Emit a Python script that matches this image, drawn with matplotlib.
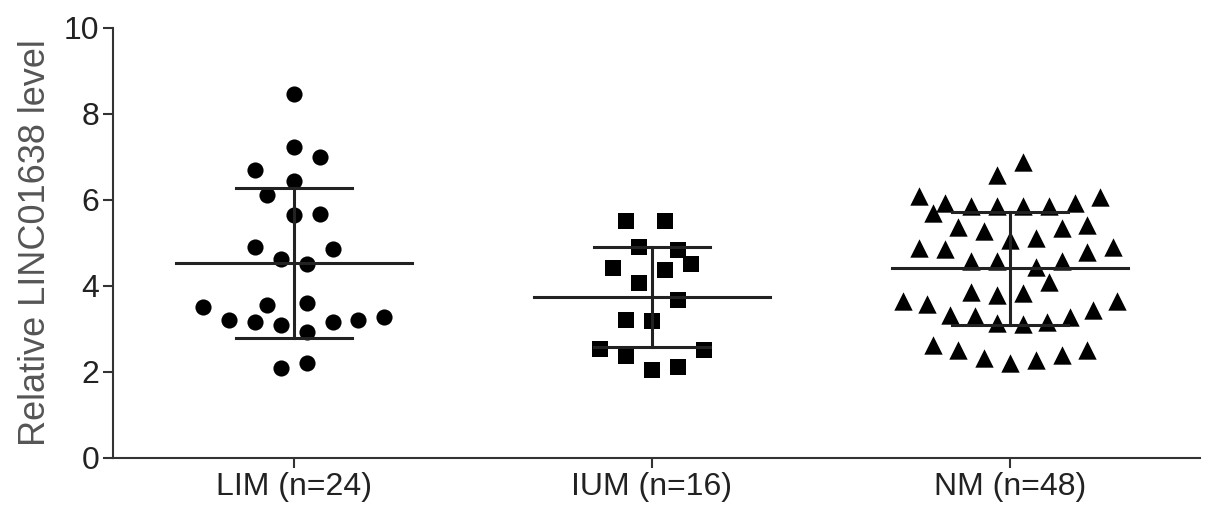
import numpy as np
import matplotlib
matplotlib.use('Agg')
import matplotlib.pyplot as plt

plt.rcParams['font.family'] = ['Liberation Sans', 'DejaVu Sans']

groups = ['LIM (n=24)', 'IUM (n=16)', 'NM (n=48)']
markers = ['o', 's', '^']

# values, with the horizontal scatter offset of each point
lim_vals = [8.47, 7.24, 6.99, 6.70, 6.43, 6.12, 5.65, 5.67, 4.91, 4.86, 4.62, 4.51,
            3.50, 3.56, 3.60, 3.21, 3.16, 3.09, 2.94, 3.16, 3.21, 3.29, 2.10, 2.20]
lim_off = [0, 0, 0.073, -0.109, 0, -0.075, 0, 0.073, -0.109, 0.108, -0.037, 0.035,
           -0.255, -0.075, 0.035, -0.181, -0.109, -0.037, 0.035, 0.108, 0.180, 0.252, -0.037, 0.035]

ium_vals = [5.52, 5.52, 4.91, 4.84, 4.51, 4.41, 4.36, 4.08, 3.67, 3.21, 3.19, 2.53,
            2.50, 2.36, 2.05, 2.12]
ium_off = [-0.072, 0.037, -0.035, 0.072, 0.109, -0.109, 0.037, -0.035, 0.072, -0.072, 0, -0.144,
           0.144, -0.072, 0, 0.072]

nm_vals = [6.89, 6.58, 6.09, 6.06, 5.92, 5.85, 5.85, 5.85, 5.85, 5.92, 5.69, 5.36,
           5.29, 5.34, 5.42, 4.88, 4.85, 5.07, 5.11, 4.80, 4.90, 4.57, 4.57, 4.45,
           4.57, 4.10, 3.87, 3.79, 3.83, 3.64, 3.58, 3.64, 3.43, 3.33, 3.30, 3.29,
           3.13, 3.12, 3.17, 2.63, 2.50, 2.32, 2.22, 2.28, 2.40, 2.51]
nm_off = [0.035, -0.035, -0.253, 0.251, -0.182, -0.110, -0.035, 0.035, 0.110, 0.182, -0.216, -0.144,
          -0.073, 0.144, 0.216, -0.253, -0.182, 0, 0.073, 0.216, 0.289, -0.110, -0.035, 0.073,
          0.144, 0.110, -0.110, -0.035, 0.035, -0.300, -0.233, 0.298, 0.233, -0.168, -0.098, 0.168,
          -0.035, 0.035, 0.103, -0.216, -0.144, -0.073, 0, 0.073, 0.144, 0.216]

means = [4.54, 3.74, 4.41]
sds = [1.74, 1.16, 1.315]

values = [lim_vals, ium_vals, nm_vals]
offsets = [lim_off, ium_off, nm_off]
sizes = [135, 135, 175]

fig = plt.figure(figsize=(12.05, 5.24), dpi=100)
ax = fig.add_axes([0.0938, 0.126, 0.9021, 0.8206])

for i in range(len(groups)):
    x = i + np.array(offsets[i])
    ax.scatter(x, values[i], marker=markers[i], s=sizes[i], color='black',
               linewidths=0, zorder=2)
    m = means[i]
    s = sds[i]
    ax.plot([i - 0.33, i + 0.33], [m, m], color='#222222', lw=2.2, zorder=3)
    ax.plot([i, i], [m - s, m + s], color='#222222', lw=2.2, zorder=3)
    ax.plot([i - 0.162, i + 0.162], [m + s, m + s], color='#222222', lw=2.2, zorder=3)
    ax.plot([i - 0.162, i + 0.162], [m - s, m - s], color='#222222', lw=2.2, zorder=3)

ax.set_xlim(-0.5056, 2.531)
ax.set_ylim(0, 10)
ax.set_yticks([0, 2, 4, 6, 8, 10])
ax.set_xticks(range(len(groups)))
ax.set_xticklabels(groups)

for side in ['top', 'right']:
    ax.spines[side].set_visible(False)
for side in ['left', 'bottom']:
    ax.spines[side].set_linewidth(1.5)
    ax.spines[side].set_color('#333333')

ax.tick_params(axis='both', direction='out', length=7, width=1.5, color='#333333',
               labelsize=23, labelcolor='#222222', pad=3)
ax.set_ylabel('Relative LINC01638 level', fontsize=26, color='#555555', labelpad=8)

fig.savefig('out.png', dpi=100)
